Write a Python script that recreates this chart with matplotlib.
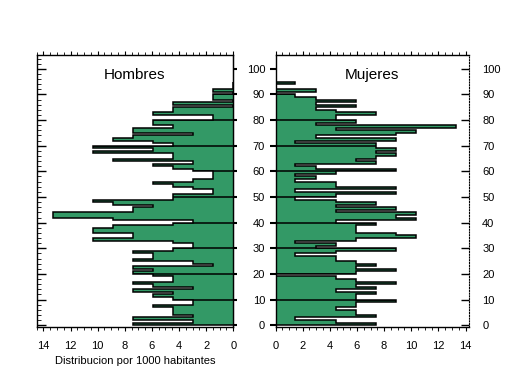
#!/usr/bin/python
# -*- coding: utf-8 -*

import numpy as np
from matplotlib import pyplot as plt
from matplotlib.ticker import MultipleLocator

plt.rcParams['font.family'] = ['Liberation Sans', 'DejaVu Sans']

# bordes de las clases de edad (un año cada una, 0..95)
edades = np.arange(0, 96)
decadas = [10, 20, 30, 40, 50, 60, 70, 80, 90]

# distribucion por 1000 habitantes, edad 0 .. 94
hombres = [7.37, 2.95, 7.37, 2.95, 4.42, 4.42, 4.42, 5.9, 2.95, 2.95,
           4.42, 5.9, 4.42, 7.37, 2.95, 5.9, 7.37, 4.42, 4.42, 5.9,
           7.37, 5.9, 7.37, 1.47, 2.95, 7.37, 5.9, 5.9, 7.37, 4.42,
           2.95, 2.95, 4.42, 10.32, 7.37, 7.37, 10.32, 10.32, 8.85, 4.42,
           2.95, 8.85, 13.27, 13.27, 7.37, 7.37, 5.9, 8.85, 10.32, 4.42,
           4.42, 1.47, 1.47, 2.95, 4.42, 5.9, 2.95, 1.47, 1.47, 1.47,
           2.95, 4.42, 5.9, 2.95, 8.85, 4.42, 4.42, 10.32, 5.9, 10.32,
           4.42, 5.9, 8.85, 7.37, 2.95, 7.37, 7.37, 4.42, 5.9, 5.9,
           1.47, 1.47, 5.9, 4.42, 4.42, 0, 4.42, 0, 1.47, 1.47,
           0, 1.47, 0, 0, 0]

mujeres = [7.37, 4.42, 1.47, 7.37, 5.9, 5.9, 4.42, 5.9, 5.9, 8.85,
           5.9, 5.9, 7.37, 4.42, 7.37, 5.9, 8.85, 5.9, 4.42, 0,
           5.9, 8.85, 5.9, 7.37, 5.9, 4.42, 4.42, 1.47, 4.42, 8.85,
           2.95, 4.42, 1.47, 5.9, 10.32, 8.85, 5.9, 5.9, 5.9, 7.37,
           4.42, 10.32, 8.85, 10.32, 4.42, 8.85, 4.42, 7.37, 4.42, 1.47,
           4.42, 8.85, 1.47, 8.85, 4.42, 4.42, 1.47, 2.95, 1.47, 4.42,
           8.85, 2.95, 1.47, 7.37, 5.9, 7.37, 8.85, 7.37, 8.85, 7.37,
           7.37, 1.47, 8.85, 2.95, 8.85, 10.32, 4.42, 13.27, 2.95, 5.9,
           4.42, 4.42, 7.37, 4.42, 2.95, 5.9, 2.95, 5.9, 2.95, 1.47,
           0, 2.95, 0, 0, 1.47]

verde = '#339966'


def draw_pyramid(ax, values, xmax, title):
    """Relleno verde en escalera, contorno negro y lineas de decada dentro del relleno."""
    fill = ax.stairs(values, edades, orientation='horizontal', fill=True,
                     color=verde, linewidth=0)
    ax.stairs(values, edades, orientation='horizontal', color='k',
              linewidth=1.1, baseline=0)
    lines = ax.hlines(decadas, 0, xmax, color='k', linewidth=1.1)
    lines.set_clip_path(fill)
    ax.set_xlim(0, xmax)
    ax.set_ylim(-0.6, 105.2)
    ax.text(0.5, 0.928, title, transform=ax.transAxes, ha='center',
            va='center', fontsize=11)
    ax.xaxis.set_major_locator(MultipleLocator(2))
    ax.xaxis.set_minor_locator(MultipleLocator(0.5))
    ax.tick_params(axis='x', which='both', bottom=True, top=True,
                   direction='out', labelsize=8, pad=7)
    ax.tick_params(axis='x', which='major', length=3)
    ax.tick_params(axis='x', which='minor', length=2.5)
    ax.yaxis.set_major_locator(MultipleLocator(10))
    for sp in ax.spines.values():
        sp.set_linewidth(1.0)


fig = plt.figure(figsize=(5.09, 3.76), dpi=100)

# Hombres (eje x invertido)
ax_h = fig.add_axes([0.0721, 0.1311, 0.3862, 0.7213])
draw_pyramid(ax_h, hombres, 14.5, 'Hombres')
ax_h.invert_xaxis()
ax_h.yaxis.set_minor_locator(MultipleLocator(2))
ax_h.tick_params(axis='y', which='both', left=True, right=False,
                 direction='in', labelleft=False)
ax_h.tick_params(axis='y', which='major', length=6.5, width=1.0)
ax_h.tick_params(axis='y', which='minor', length=3)
sec_h = ax_h.secondary_yaxis('right')
sec_h.yaxis.set_major_locator(MultipleLocator(10))
sec_h.tick_params(axis='y', direction='out', length=3, width=1.5,
                  labelright=False)
ax_h.set_xlabel('Distribucion por 1000 habitantes', fontsize=8, labelpad=4)

# Mujeres
ax_m = fig.add_axes([0.5413, 0.1311, 0.3802, 0.7213])
draw_pyramid(ax_m, mujeres, 14.26, 'Mujeres')
ax_m.tick_params(axis='y', which='major', left=True, right=False,
                 direction='out', length=4.5, width=1.5, labelsize=8, pad=3)
ax_m.spines['right'].set_visible(False)
sec_m = ax_m.secondary_yaxis('right')
sec_m.yaxis.set_major_locator(MultipleLocator(10))
sec_m.tick_params(axis='y', direction='in', length=5.5, width=1.0,
                  labelsize=8, pad=9.5)
sec_m.spines['right'].set_linestyle((0, (1, 1.5)))

fig.savefig('out.png', dpi=100)
